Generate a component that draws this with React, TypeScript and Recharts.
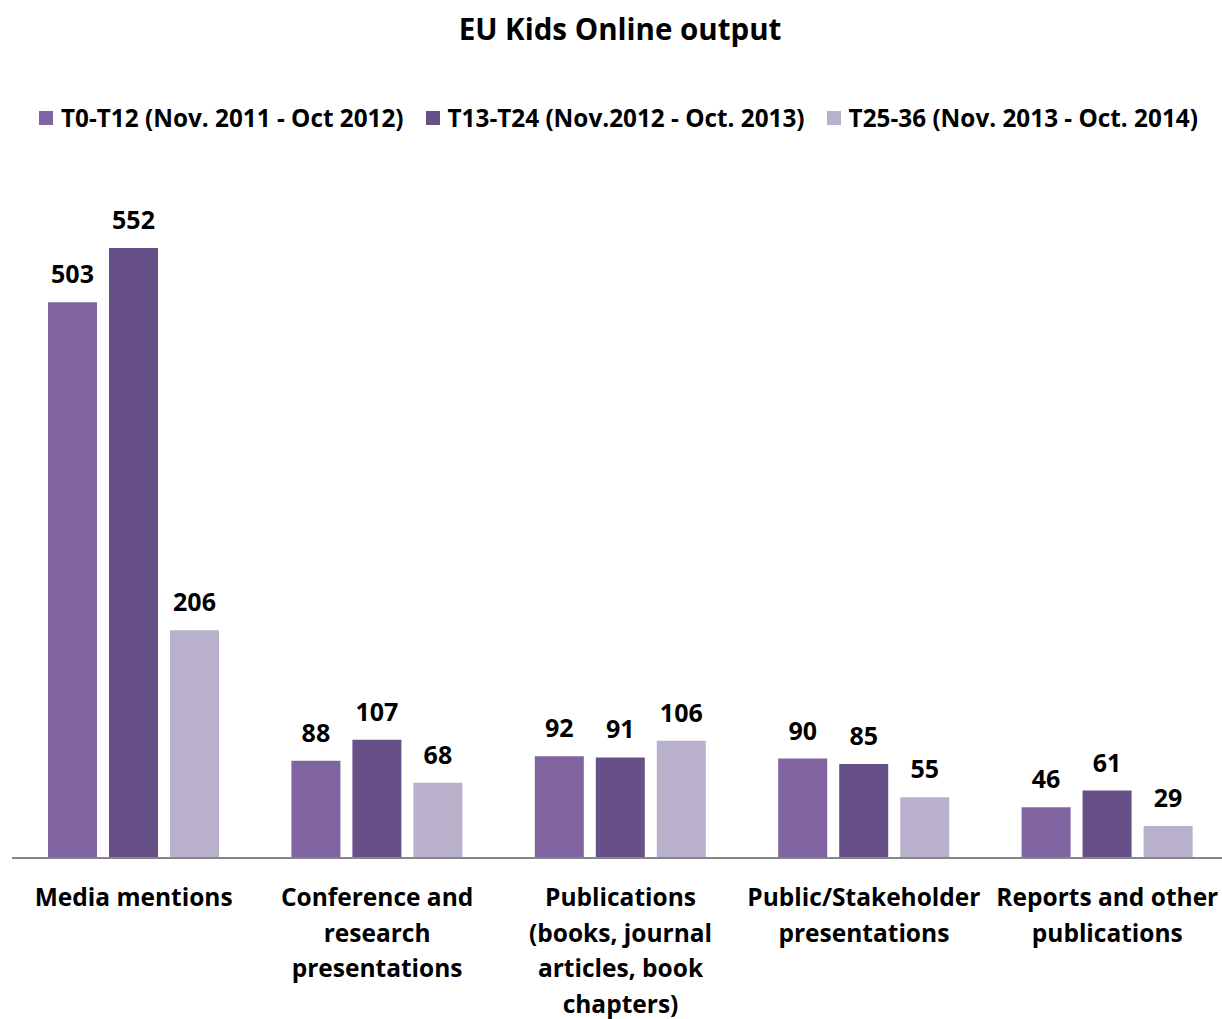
import React from "react";
import { BarChart, Bar, XAxis, YAxis, LabelList } from "recharts";

const categories = [
  "Media mentions",
  "Conference and\nresearch\npresentations",
  "Publications\n(books, journal\narticles, book\nchapters)",
  "Public/Stakeholder\npresentations",
  "Reports and other\npublications",
];
const t0t12 = [503, 88, 92, 90, 46];
const t13t24 = [552, 107, 91, 85, 61];
const t25t36 = [206, 68, 106, 55, 29];

const seriesNames = [
  "T0-T12 (Nov. 2011 - Oct 2012)",
  "T13-T24 (Nov.2012 - Oct. 2013)",
  "T25-36 (Nov. 2013 - Oct. 2014)",
];
const colors = ["#8064A2", "#674F87", "#B9B0CC"];

const FONT = "'Open Sans', Lato, sans-serif";

const data = categories.map((name, i) => ({
  name,
  a: t0t12[i],
  b: t13t24[i],
  c: t25t36[i],
}));

function CategoryTick({ x, y, payload }: any) {
  const lines = String(payload.value).split("\n");
  return (
    <text
      x={x}
      y={y}
      textAnchor="middle"
      fontFamily={FONT}
      fontWeight={700}
      fontSize={24.5}
      fill="#000"
    >
      {lines.map((l, i) => (
        <tspan key={i} x={x} y={y + 40 + i * 35.7}>
          {l}
        </tspan>
      ))}
    </text>
  );
}

export default function App() {
  const keys = ["a", "b", "c"];
  return (
    <div
      style={{
        position: "absolute",
        left: 0,
        top: 0,
        width: 1222,
        height: 1019,
        overflow: "hidden",
        background: "#fff",
        fontFamily: FONT,
      }}
    >
      <div
        style={{
          position: "absolute",
          left: 0,
          width: 1240,
          top: 10,
          textAlign: "center",
          fontSize: 29.5,
          fontWeight: 700,
          lineHeight: "38px",
        }}
      >
        EU Kids Online output
      </div>
      <div
        style={{
          position: "absolute",
          left: 39,
          top: 101,
          display: "flex",
          alignItems: "center",
          fontSize: 24.3,
          fontWeight: 700,
          lineHeight: "34px",
          whiteSpace: "nowrap",
        }}
      >
        {seriesNames.map((s, i) => (
          <span key={s} style={{ display: "inline-flex", alignItems: "center", marginRight: 22 }}>
            <span style={{ display: "inline-block", width: 14, height: 14, background: colors[i], marginRight: 8 }} />
            {s}
          </span>
        ))}
      </div>
      <BarChart
        width={1230}
        height={1019}
        data={data}
        margin={{ top: 195, right: 1, bottom: 0, left: 12 }}
        barSize={49}
        barGap={12}
      >
        <XAxis
          dataKey="name"
          height={161}
          interval={0}
          tickLine={false}
          axisLine={{ stroke: "#868686", strokeWidth: 2 }}
          tick={<CategoryTick />}
        />
        <YAxis hide domain={[0, 600]} />
        {keys.map((k, i) => (
          <Bar key={k} dataKey={k} name={seriesNames[i]} fill={colors[i]} isAnimationActive={false}>
            <LabelList
              dataKey={k}
              position="top"
              offset={19}
              fill="#000"
              fontFamily={FONT}
              fontWeight={700}
              fontSize={25}
            />
          </Bar>
        ))}
      </BarChart>
    </div>
  );
}
